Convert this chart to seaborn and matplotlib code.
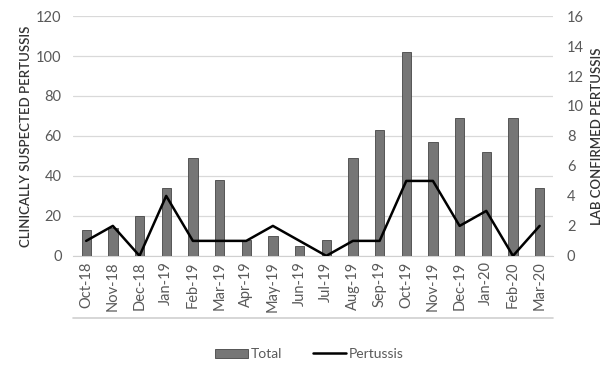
import numpy as np
import pandas as pd
import seaborn as sns
import matplotlib
matplotlib.use("Agg")
import matplotlib.pyplot as plt
from matplotlib.patches import Patch
from matplotlib.lines import Line2D

months = ["Oct-18", "Nov-18", "Dec-18", "Jan-19", "Feb-19", "Mar-19", "Apr-19", "May-19", "Jun-19",
          "Jul-19", "Aug-19", "Sep-19", "Oct-19", "Nov-19", "Dec-19", "Jan-20", "Feb-20", "Mar-20"]
total = [13, 14, 20, 34, 49, 38, 8, 10, 5, 8, 49, 63, 102, 57, 69, 52, 69, 34]
pertussis = [1, 2, 0, 4, 1, 1, 1, 2, 1, 0, 1, 1, 5, 5, 2, 3, 0, 2]

df = pd.DataFrame({"month": months, "total": total, "pertussis": pertussis})
df["pos"] = np.arange(len(df))

sns.set_style("white")
plt.rcParams["font.family"] = ["Lato", "DejaVu Sans"]
txt = "#595959"

fig = plt.figure(figsize=(6.07, 3.65), dpi=100)
ax = fig.add_axes([0.120, 0.299, 0.791, 0.657])

sns.barplot(data=df, x="month", y="total", color="#767676", edgecolor="#454545",
            linewidth=0.6, width=0.35, saturation=1, ax=ax, zorder=3)
ax.set_ylim(0, 120)
ax.set_yticks(range(0, 121, 20))
ax.set_xlim(-0.5, len(df) - 0.5)
ax.grid(axis="y", color="#d9d9d9", linewidth=0.9, zorder=0)
for s in ["top", "left", "right"]:
    ax.spines[s].set_visible(False)
ax.spines["bottom"].set_color("#d0d0d0")
ax.tick_params(axis="x", rotation=90, labelsize=10.5, colors=txt, length=0, pad=4)
ax.tick_params(axis="y", labelsize=10.5, colors=txt, length=0, pad=8)
ax.set_xlabel("")
ax.set_ylabel("CLINICALLY SUSPECTED PERTUSSIS", fontsize=9.5, color="#333333",
              fontweight="semibold", labelpad=3)
# line under the category labels
ax.plot([0, 1], [-0.26, -0.26], transform=ax.transAxes, color="#d0d0d0",
        linewidth=1.2, clip_on=False)

ax2 = ax.twinx()
sns.lineplot(data=df, x="pos", y="pertussis", color="black", linewidth=1.8, ax=ax2, zorder=4)
ax2.set_ylim(0, 16)
ax2.set_yticks(range(0, 17, 2))
ax2.set_xlim(-0.5, len(df) - 0.5)
for s in ["top", "left", "right", "bottom"]:
    ax2.spines[s].set_visible(False)
ax2.tick_params(axis="y", labelsize=10.5, colors=txt, length=0, pad=10)
ax2.set_ylabel("LAB CONFIRMED PERTUSSIS", fontsize=9.5, color="#333333",
               fontweight="semibold", labelpad=5)
ax2.set_xlabel("")

handles = [Patch(facecolor="#767676", edgecolor="#454545", linewidth=0.6),
           Line2D([0], [0], color="black", linewidth=1.8)]
fig.legend(handles, ["Total", "Pertussis"], loc="center", bbox_to_anchor=(0.51, 0.03),
           ncol=2, frameon=False, fontsize=10, handlelength=2.4, handleheight=0.6,
           columnspacing=2.2, handletextpad=0.2, labelcolor=txt)

fig.savefig("out.png", dpi=100)
